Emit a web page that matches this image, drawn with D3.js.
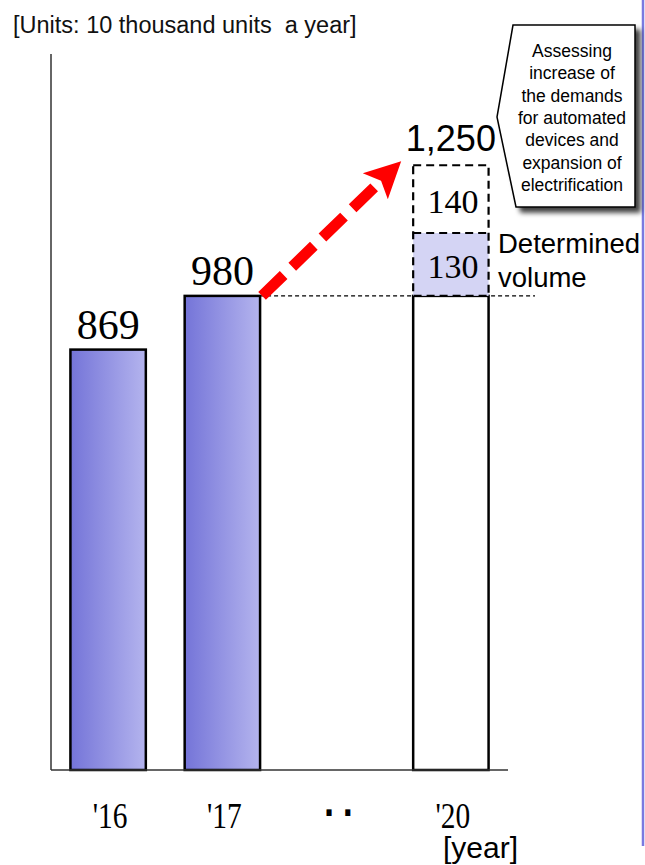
<!DOCTYPE html>
<html>
<head>
<meta charset="utf-8">
<script src="https://cdn.jsdelivr.net/npm/d3@7"></script>
<style>
  body { margin: 0; background: #fff; }
  svg { display: block; }
</style>
</head>
<body>
<script>
//data (10 thousand units a year)
const categories = ["'16", "'17", "··", "'20"];
const actualYears = ["'16", "'17"];
const actualValues = [869, 980];
const forecastYear = "'20";
const forecastBase = 980;
const determinedVolume = 130;
const assessedVolume = 140;
const forecastTotal = 1250;
const noteLines = ["Assessing", "increase of", "the demands", "for automated", "devices and", "expansion of", "electrification"];

//size of the page
const width = 645;
const height = 865;

const serif = "'Liberation Serif', 'Times New Roman', serif";
const sans = "'Liberation Sans', Arial, sans-serif";

let svg = d3.select("body").append("svg")
  .attr("width", width)
  .attr("height", height);

let defs = svg.append("defs");

// gradient used by the bars
let grad = defs.append("linearGradient")
  .attr("id", "barFill")
  .attr("x1", "0%").attr("x2", "100%")
  .attr("y1", "0%").attr("y2", "0%");
grad.append("stop").attr("offset", "0%").attr("stop-color", "#7474d8");
grad.append("stop").attr("offset", "100%").attr("stop-color", "#b4b4ee");

// shadow for the callout
let shadow = defs.append("filter")
  .attr("id", "shadow")
  .attr("x", "-20%").attr("y", "-20%")
  .attr("width", "150%").attr("height", "150%");
shadow.append("feDropShadow")
  .attr("dx", 5).attr("dy", 5)
  .attr("stdDeviation", 2.5)
  .attr("flood-color", "#000")
  .attr("flood-opacity", 0.75);

// scales
let x = d3.scaleBand()
  .domain(categories)
  .range([51, 508])
  .paddingInner(0.34)
  .paddingOuter(0.17);

let y = d3.scaleLinear()
  .domain([0, 1480])
  .range([770, 54]);

let bw = x.bandwidth();

// purple rule on the right edge
svg.append("line")
  .attr("x1", 643).attr("x2", 643)
  .attr("y1", 0).attr("y2", 846)
  .attr("stroke", "#7a7ae0")
  .attr("stroke-width", 2.5);

// unit label
svg.append("text")
  .attr("x", 13)
  .attr("y", 33)
  .attr("font-family", sans)
  .attr("font-size", 23.5)
  .attr("fill", "#111")
  .attr("xml:space", "preserve")
  .text("[Units: 10 thousand units  a year]");

// y axis is only a line
svg.append("line")
  .attr("x1", 51).attr("x2", 51)
  .attr("y1", y.range()[1]).attr("y2", y(0))
  .attr("stroke", "#333")
  .attr("stroke-width", 1.5);

// actual bars
svg.selectAll(".bar")
  .data(actualYears)
  .enter().append("rect")
  .attr("class", "bar")
  .attr("x", d => x(d))
  .attr("y", (d, i) => y(actualValues[i]))
  .attr("width", bw)
  .attr("height", (d, i) => y(0) - y(actualValues[i]))
  .attr("fill", "url(#barFill)")
  .attr("stroke", "#000")
  .attr("stroke-width", 2.5);

svg.selectAll(".barLabel")
  .data(actualYears)
  .enter().append("text")
  .attr("class", "barLabel")
  .attr("x", d => x(d) + bw / 2)
  .attr("y", (d, i) => y(actualValues[i]) - 11)
  .attr("text-anchor", "middle")
  .attr("font-family", serif)
  .attr("font-size", 42)
  .text((d, i) => actualValues[i]);

// level line from the '17 bar
svg.append("line")
  .attr("x1", x("'17") + bw).attr("x2", 535)
  .attr("y1", y(forecastBase)).attr("y2", y(forecastBase))
  .attr("stroke", "#000")
  .attr("stroke-width", 1.2)
  .attr("stroke-dasharray", "4,3");

// '20 base bar
let fx = x(forecastYear);
svg.append("rect")
  .attr("x", fx)
  .attr("y", y(forecastBase))
  .attr("width", bw)
  .attr("height", y(0) - y(forecastBase))
  .attr("fill", "#fff")
  .attr("stroke", "#000")
  .attr("stroke-width", 2.5);

// determined volume
let detTop = forecastBase + determinedVolume;
svg.append("rect")
  .attr("x", fx)
  .attr("y", y(detTop))
  .attr("width", bw)
  .attr("height", y(forecastBase) - y(detTop))
  .attr("fill", "#d4d4f4");

// dashed outline of the expected increase
svg.append("rect")
  .attr("x", fx)
  .attr("y", y(forecastTotal))
  .attr("width", bw)
  .attr("height", y(forecastBase) - y(forecastTotal))
  .attr("fill", "none")
  .attr("stroke", "#000")
  .attr("stroke-width", 2.2)
  .attr("stroke-dasharray", "8,5");

svg.append("line")
  .attr("x1", fx).attr("x2", fx + bw)
  .attr("y1", y(detTop)).attr("y2", y(detTop))
  .attr("stroke", "#000")
  .attr("stroke-width", 2.2)
  .attr("stroke-dasharray", "8,5");

svg.append("text")
  .attr("x", fx + bw / 2 + 2)
  .attr("y", (y(forecastTotal) + y(detTop)) / 2 + 14)
  .attr("text-anchor", "middle")
  .attr("font-family", serif)
  .attr("font-size", 34)
  .text(assessedVolume);

svg.append("text")
  .attr("x", fx + bw / 2 + 2)
  .attr("y", (y(detTop) + y(forecastBase)) / 2 + 14)
  .attr("text-anchor", "middle")
  .attr("font-family", serif)
  .attr("font-size", 34)
  .text(determinedVolume);

svg.append("text")
  .attr("x", fx + bw / 2)
  .attr("y", y(forecastTotal) - 14)
  .attr("text-anchor", "middle")
  .attr("font-family", sans)
  .attr("font-size", 36)
  .text(d3.format(",")(forecastTotal));

// determined volume label
let det = svg.append("text")
  .attr("x", 498)
  .attr("y", y(detTop) + 20)
  .attr("font-family", sans)
  .attr("font-size", 27.5);
det.append("tspan").attr("x", 498).text("Determined");
det.append("tspan").attr("x", 498).attr("dy", 34).text("volume");

// red dashed arrow from '17 to the 1,250 label
let ax0 = x("'17") + bw + 2, ay0 = y(forecastBase);
let ax1 = fx - 12, ay1 = y(forecastTotal) - 4;
let ang = Math.atan2(ay1 - ay0, ax1 - ax0);
let headLen = 36, headHalf = 18;
let bx = ax1 - headLen * Math.cos(ang), by = ay1 - headLen * Math.sin(ang);

svg.append("line")
  .attr("x1", ax0).attr("y1", ay0)
  .attr("x2", bx + 6 * Math.cos(ang)).attr("y2", by + 6 * Math.sin(ang))
  .attr("stroke", "#ff0000")
  .attr("stroke-width", 11)
  .attr("stroke-dasharray", "30,12");

svg.append("polygon")
  .attr("points", [
    [ax1, ay1],
    [bx - headHalf * Math.sin(ang), by + headHalf * Math.cos(ang)],
    [bx + 8 * Math.cos(ang), by + 8 * Math.sin(ang)],
    [bx + headHalf * Math.sin(ang), by - headHalf * Math.cos(ang)]
  ].map(p => p.join(",")).join(" "))
  .attr("fill", "#ff0000");

// callout
svg.append("path")
  .attr("d", "M513,25 L635,25 L635,207 L516,207 L497,117 Z")
  .attr("fill", "#fff")
  .attr("stroke", "#000")
  .attr("stroke-width", 1.5)
  .attr("filter", "url(#shadow)");

svg.append("g")
  .selectAll("text")
  .data(noteLines)
  .enter().append("text")
  .attr("x", 572)
  .attr("y", (d, i) => 57 + i * 22.3)
  .attr("text-anchor", "middle")
  .attr("font-family", sans)
  .attr("font-size", 17.5)
  .text(d => d);

// baseline
svg.append("line")
  .attr("x1", 51).attr("x2", 508)
  .attr("y1", y(0)).attr("y2", y(0))
  .attr("stroke", "#333")
  .attr("stroke-width", 1.5);

// year labels, a little taller than wide like the original
svg.selectAll(".tick")
  .data(categories)
  .enter().append("text")
  .attr("class", "tick")
  .attr("transform", d => "translate(" + (x(d) + bw / 2 + (d === "··" ? 6 : 2)) + ",828) scale(0.95,1.18)")
  .attr("text-anchor", "middle")
  .attr("font-family", d => d === "··" ? sans : serif)
  .attr("font-size", d => d === "··" ? 38 : 31)
  .attr("font-weight", d => d === "··" ? "bold" : "normal")
  .attr("letter-spacing", d => d === "··" ? 7 : 0)
  .text(d => d);

svg.append("text")
  .attr("x", 443)
  .attr("y", 858)
  .attr("font-family", sans)
  .attr("font-size", 30)
  .text("[year]");
</script>
</body>
</html>
